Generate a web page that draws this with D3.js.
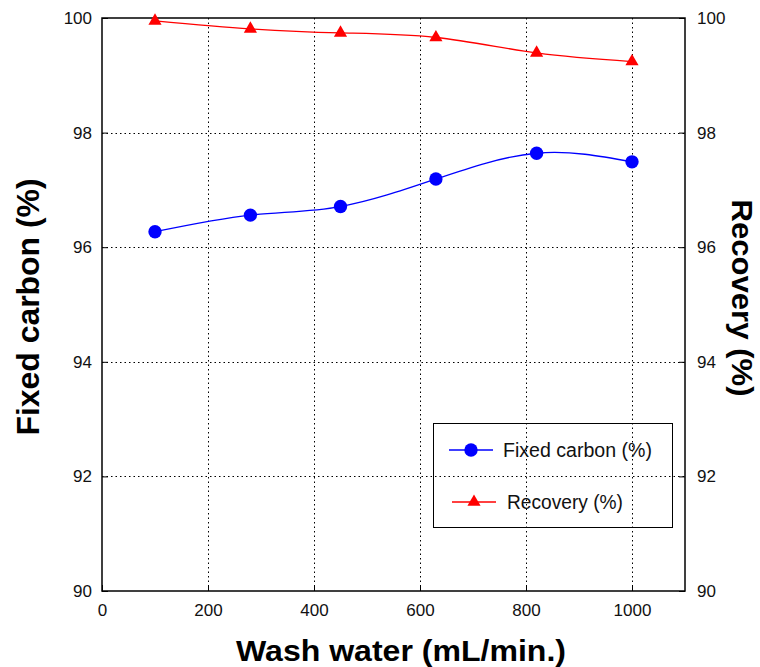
<!DOCTYPE html>
<html>
<head>
<meta charset="utf-8">
<script src="https://cdn.jsdelivr.net/npm/d3@7"></script>
<style>
  html, body { margin: 0; padding: 0; background: #fff; }
  svg { display: block; font-family: "Liberation Sans", Arial, sans-serif; }
</style>
</head>
<body>
<svg id="chart" width="760" height="667"></svg>
<script>
// Wash water flow rate (mL/min.)
const washWater = [100, 280, 450, 630, 820, 1000];
// Fixed carbon content (%)
const fixedCarbon = [96.27, 96.56, 96.71, 97.19, 97.64, 97.49];
// Carbon recovery (%)
const recovery = [99.95, 99.81, 99.74, 99.66, 99.39, 99.24];

const xTicks = [0, 200, 400, 600, 800, 1000];
const yTicks = [90, 92, 94, 96, 98, 100];

const svg = d3.select("#chart");
const m = { left: 102, right: 685, top: 18, bottom: 591 };

const x = d3.scaleLinear().domain([0, 1100]).range([m.left, m.right]);
const y = d3.scaleLinear().domain([90, 100]).range([m.bottom, m.top]);
const y2 = d3.scaleLinear().domain([90, 100]).range([m.bottom, m.top]);

// dotted grid
const grid = svg.append("g").attr("stroke", "#000").attr("stroke-width", 1)
  .attr("stroke-dasharray", "1.5,3");
grid.selectAll(".gx").data(xTicks.filter(d => d > 0)).join("line")
  .attr("x1", d => Math.round(x(d)) + 0.5).attr("x2", d => Math.round(x(d)) + 0.5)
  .attr("y1", m.top).attr("y2", m.bottom);
grid.selectAll(".gy").data(yTicks.filter(d => d > 90 && d < 100)).join("line")
  .attr("y1", d => Math.round(y(d)) + 0.5).attr("y2", d => Math.round(y(d)) + 0.5)
  .attr("x1", m.left).attr("x2", m.right);

// axes with inward ticks
const fmt = d3.format("d");
const axisStyle = g => {
  g.select(".domain").remove();
  g.selectAll(".tick line").attr("stroke", "#000").attr("stroke-width", 1);
  g.selectAll(".tick text").attr("fill", "#111").style("font-size", "17px")
    .style("font-family", "'Liberation Sans', Arial, sans-serif");
};

svg.append("g").attr("transform", `translate(0,${m.bottom})`)
  .call(d3.axisBottom(x).tickValues(xTicks).tickFormat(fmt).tickSizeInner(-6).tickPadding(13))
  .call(axisStyle);
svg.append("g").attr("transform", `translate(${m.left},0)`)
  .call(d3.axisLeft(y).tickValues(yTicks).tickFormat(fmt).tickSizeInner(-6).tickPadding(10))
  .call(axisStyle);
svg.append("g").attr("transform", `translate(${m.right},0)`)
  .call(d3.axisRight(y2).tickValues(yTicks).tickFormat(fmt).tickSizeInner(-6).tickPadding(12))
  .call(axisStyle);
svg.append("g").attr("transform", `translate(0,${m.top})`)
  .call(d3.axisTop(x).tickValues(xTicks).tickFormat("").tickSizeInner(0))
  .call(axisStyle);

// plot frame
svg.append("rect")
  .attr("x", m.left).attr("y", m.top)
  .attr("width", m.right - m.left).attr("height", m.bottom - m.top)
  .attr("fill", "none").attr("stroke", "#000").attr("stroke-width", 1.5);

// series
const fcData = washWater.map((w, i) => [w, fixedCarbon[i]]);
const recData = washWater.map((w, i) => [w, recovery[i]]);

const lineFc = d3.line().x(d => x(d[0])).y(d => y(d[1])).curve(d3.curveNatural);
const lineRec = d3.line().x(d => x(d[0])).y(d => y2(d[1])).curve(d3.curveNatural);

svg.append("path").datum(fcData).attr("d", lineFc)
  .attr("fill", "none").attr("stroke", "#0000ff").attr("stroke-width", 1.3);
svg.append("path").datum(recData).attr("d", lineRec)
  .attr("fill", "none").attr("stroke", "#ff0000").attr("stroke-width", 1.3);

const circleSym = d3.symbol().type(d3.symbolCircle).size(140);
const triSym = d3.symbol().type(d3.symbolTriangle).size(75);

svg.selectAll(".fc").data(fcData).join("path")
  .attr("d", circleSym)
  .attr("transform", d => `translate(${x(d[0])},${y(d[1])})`)
  .attr("fill", "#0000ff");
svg.selectAll(".rec").data(recData).join("path")
  .attr("d", triSym)
  .attr("transform", d => `translate(${x(d[0])},${y2(d[1])})`)
  .attr("fill", "#ff0000");

// legend
const lg = svg.append("g");
lg.append("rect").attr("x", 433.5).attr("y", 423.5).attr("width", 239).attr("height", 104)
  .attr("fill", "none").attr("stroke", "#000").attr("stroke-width", 1);
const legendItems = [
  { label: "Fixed carbon (%)", color: "#0000ff", sym: circleSym, y: 450, x0: 449, x1: 493, tx: 503, len: 149 },
  { label: "Recovery (%)", color: "#ff0000", sym: triSym, y: 502, x0: 452, x1: 496, tx: 507, len: 116 }
];
legendItems.forEach(it => {
  lg.append("line").attr("x1", it.x0).attr("x2", it.x1).attr("y1", it.y).attr("y2", it.y)
    .attr("stroke", it.color).attr("stroke-width", 1.3);
  lg.append("path").attr("d", it.sym)
    .attr("transform", `translate(${(it.x0 + it.x1) / 2},${it.y})`).attr("fill", it.color);
  lg.append("text").attr("x", it.tx).attr("y", it.y).attr("dy", "0.36em")
    .attr("textLength", it.len).attr("lengthAdjust", "spacingAndGlyphs")
    .style("font-size", "19.5px").attr("fill", "#111").text(it.label);
});

// axis titles
svg.append("text").attr("x", 401).attr("y", 661).attr("text-anchor", "middle")
  .attr("textLength", 330).attr("lengthAdjust", "spacingAndGlyphs")
  .style("font-size", "30px").style("font-weight", "bold").text("Wash water (mL/min.)");
svg.append("text").attr("transform", "translate(39,307) rotate(-90)").attr("text-anchor", "middle")
  .attr("textLength", 257).attr("lengthAdjust", "spacingAndGlyphs")
  .style("font-size", "32px").style("font-weight", "bold").text("Fixed carbon (%)");
svg.append("text").attr("transform", "translate(732,298) rotate(90)").attr("text-anchor", "middle")
  .attr("textLength", 197).attr("lengthAdjust", "spacingAndGlyphs")
  .style("font-size", "30px").style("font-weight", "bold").text("Recovery (%)");
</script>
</body>
</html>
